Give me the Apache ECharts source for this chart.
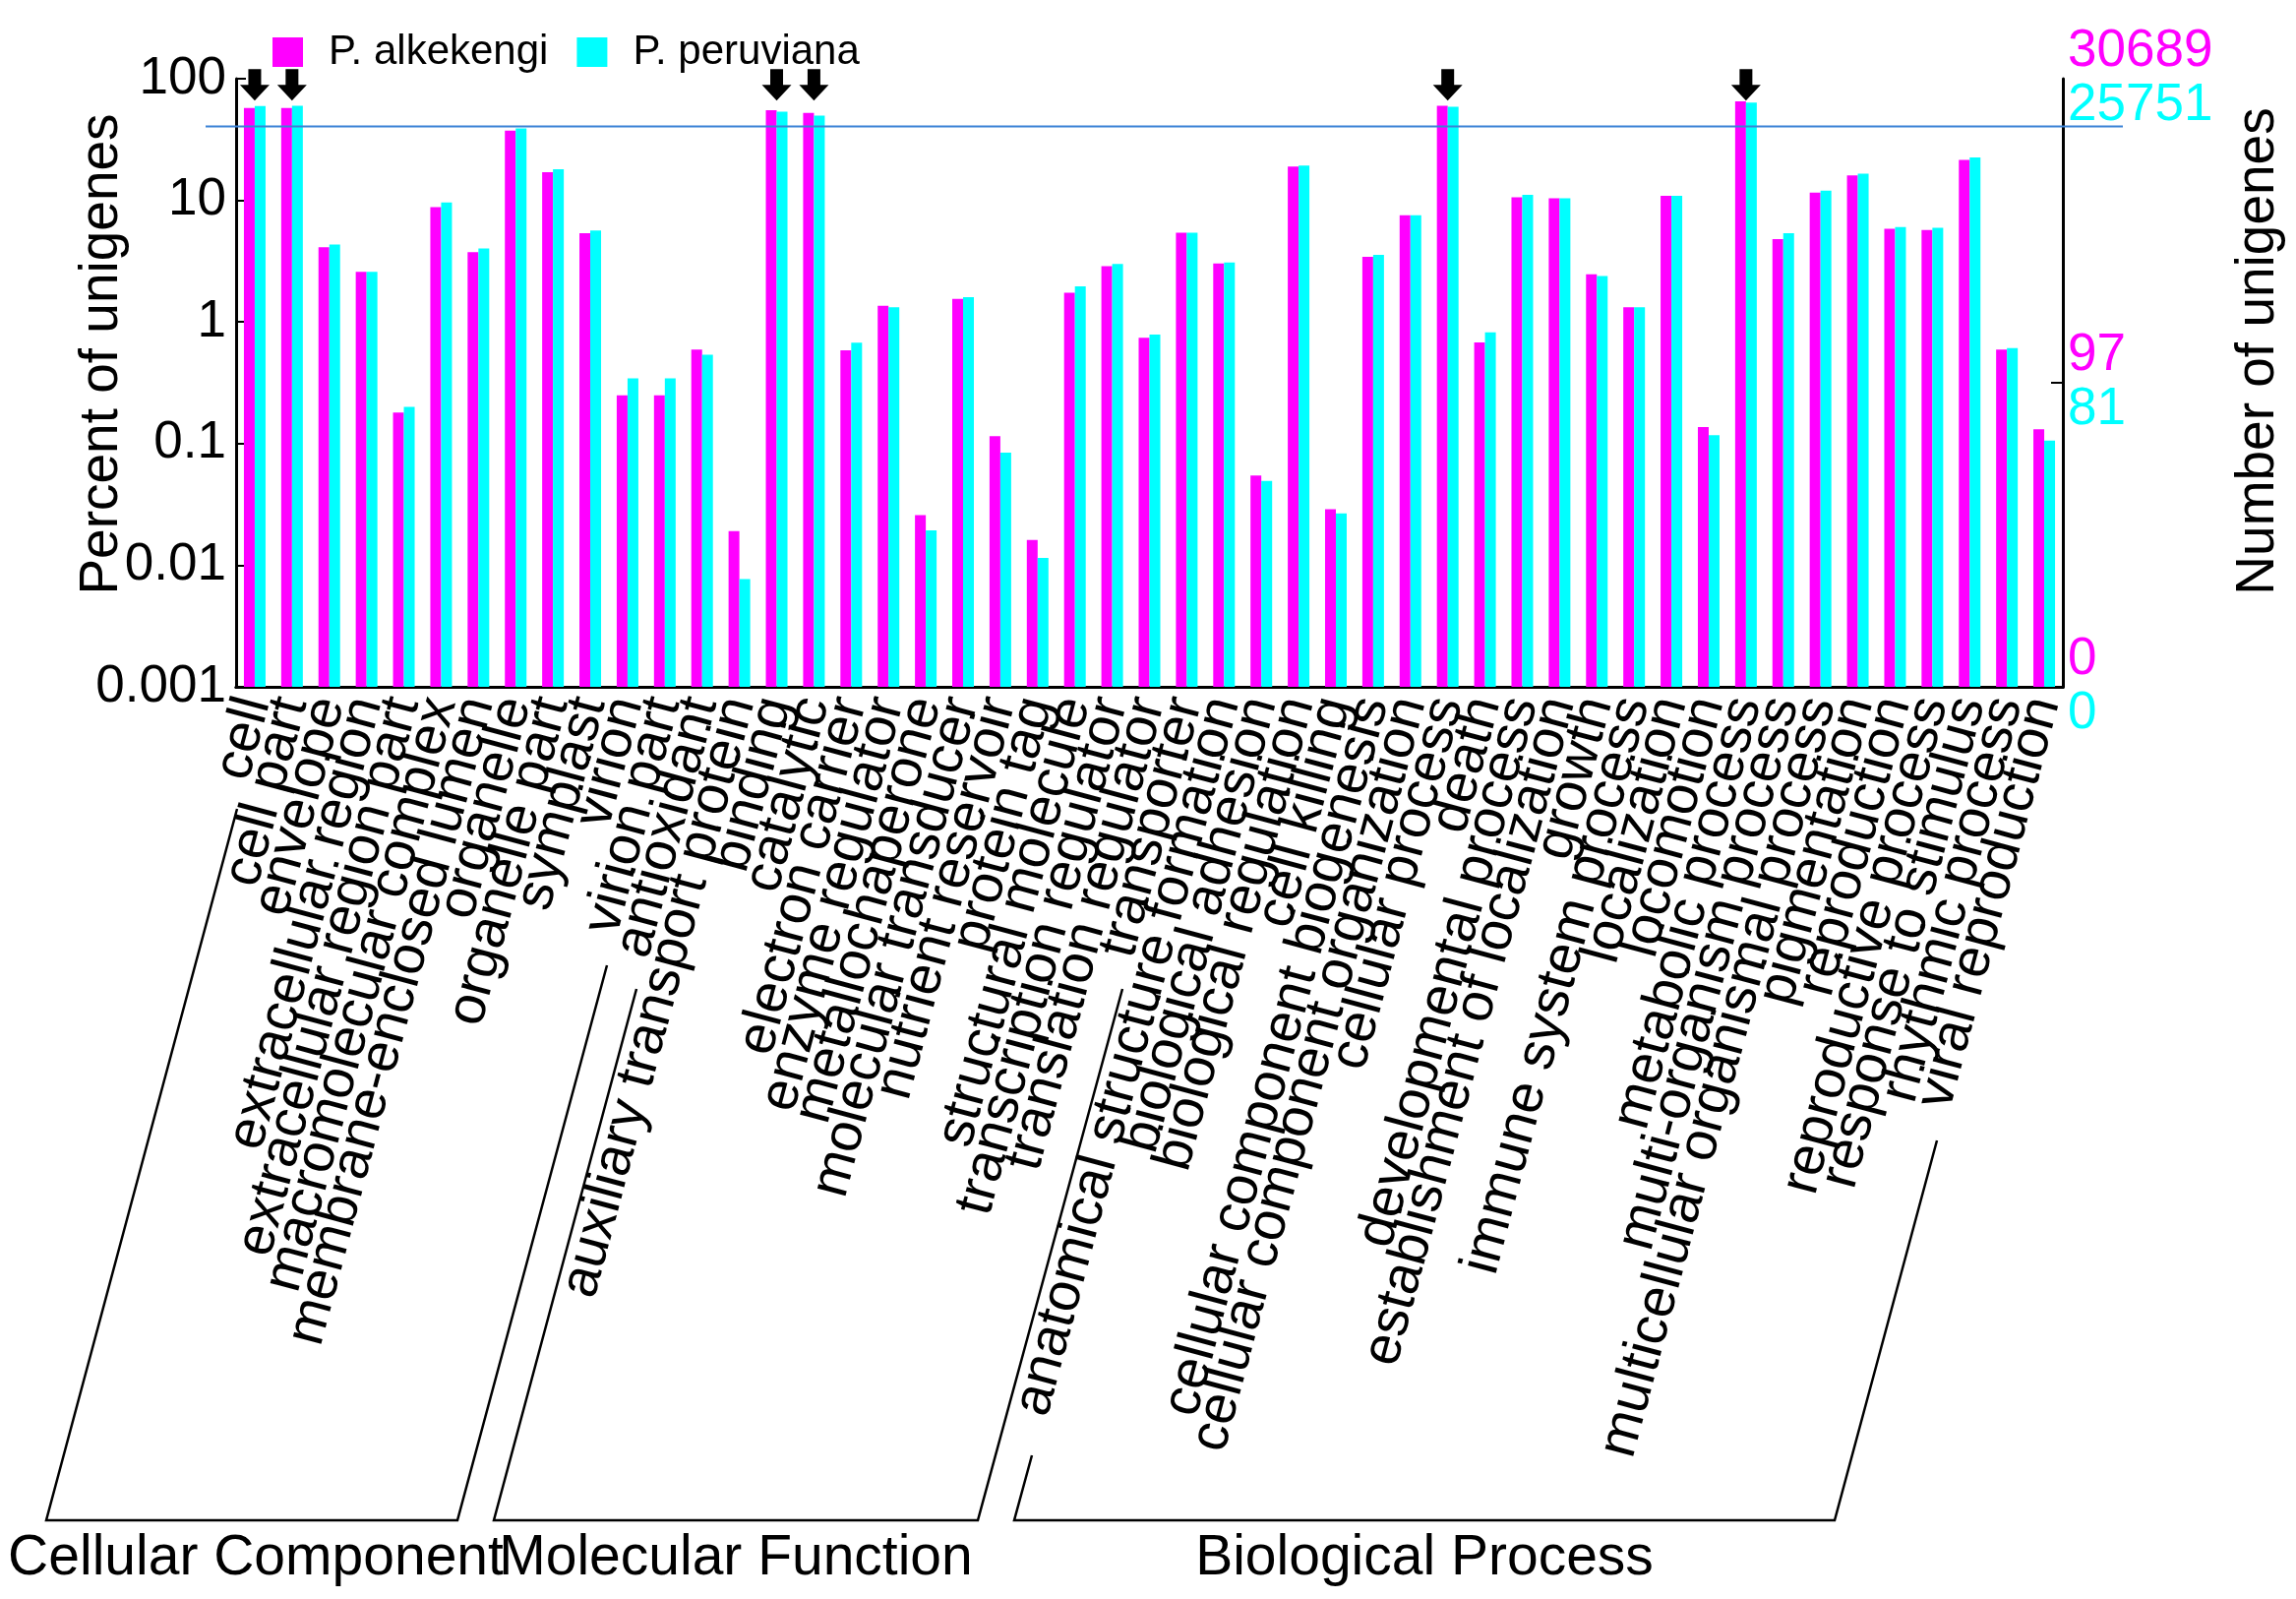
<!DOCTYPE html>
<html><head><meta charset="utf-8">
<script src="https://cdn.jsdelivr.net/npm/echarts@6/dist/echarts.min.js"></script>
<style>html,body{margin:0;padding:0;background:#fff}#c{width:2334px;height:1625px}</style>
</head><body><div id="c"></div>
<script>
const categories = [
  'cell','cell part','envelope','extracellular region','extracellular region part','macromolecular complex',
  'membrane-enclosed lumen','organelle','organelle part','symplast','virion','virion part',
  'antioxidant','auxiliary transport protein','binding','catalytic','electron carrier','enzyme regulator',
  'metallochaperone','molecular transducer','nutrient reservoir','protein tag','structural molecule',
  'transcription regulator','translation regulator','transporter',
  'anatomical structure formation','biological adhesion','biological regulation','cell killing',
  'cellular component biogenesis','cellular component organization','cellular process','death',
  'developmental process','establishment of localization','growth','immune system process','localization',
  'locomotion','metabolic process','multi-organism process','multicellular organismal process',
  'pigmentation','reproduction','reproductive process','response to stimulus','rhythmic process','viral reproduction'
];
const alkekengi = [
  57.5, 57.5, 4.12, 2.58, 0.18, 8.8, 3.75, 37.5, 17.0, 5.37, 0.249, 0.249,
  0.594, 0.0191, 55, 52.4, 0.585, 1.36, 0.0258, 1.545, 0.115, 0.0161, 1.74, 2.88, 0.741, 5.41,
  3.03, 0.0546, 18.97, 0.0288, 3.44, 7.55, 60, 0.68, 10.6, 10.4, 2.47, 1.32, 10.9, 0.137,
  65.3, 4.80, 11.6, 16.0, 5.85, 5.70, 21.5, 0.594, 0.131
];
const peruviana = [
  59.5, 60, 4.33, 2.58, 0.20, 9.6, 4.02, 39.1, 18.0, 5.65, 0.344, 0.344,
  0.537, 0.0077, 53.5, 49.7, 0.676, 1.32, 0.0193, 1.60, 0.0843, 0.0115, 1.96, 3.00, 0.787, 5.41,
  3.08, 0.0493, 19.3, 0.0267, 3.56, 7.55, 58.9, 0.82, 11.1, 10.4, 2.39, 1.32, 10.9, 0.117,
  63.7, 5.37, 12.0, 16.6, 6.04, 5.94, 22.5, 0.610, 0.106
];
const seriesNames = ['P. alkekengi', 'P. peruviana'];
const leftTicks = [0.001, 0.01, 0.1, 1, 10, 100];
const rightAlk = [30689, 97, 0];
const rightPer = [25751, 81, 0];
const refLineValue = 40.5;
const arrowThreshold = 50;
const arrowLevel = 89;
const groupNames = ['Cellular Component', 'Molecular Function', 'Biological Process'];

const FONT = '"Liberation Sans", Arial, Helvetica, sans-serif';
const MAG = '#ff00ff', CY = '#00ffff';

// log10 scale, shifted so the axis floor (0.001 %) is 0
const LOG_MIN = Math.log10(leftTicks[0]);
const LOG_MAX = Math.log10(leftTicks[leftTicks.length - 1]);
const toPlot = v => Math.log10(v) - LOG_MIN;
const fromPlot = p => Math.pow(10, p + LOG_MIN);

const rightPos = [toPlot(100), toPlot(rightAlk[1] / rightAlk[0] * 100), 0];

const chart = echarts.init(document.getElementById('c'), null, {renderer: 'canvas'});
const arrowPath = 'path://M8.5,0 L21.5,0 L21.5,16 L30,16 L15,32 L0,16 L8.5,16 Z';

const option = {
  backgroundColor: '#fff',
  animation: false,
  textStyle: {fontFamily: FONT},
  legend: {
    data: seriesNames,
    left: 272, top: 27,
    itemWidth: 31, itemHeight: 30, itemGap: 29,
    icon: 'rect',
    textStyle: {fontSize: 42, color: '#000', fontFamily: FONT, padding: [0, 0, 0, 21]}
  },
  grid: [
    {left: 240, right: 237, top: 80, bottom: 927, containLabel: false},
    {left: 209, right: 176, top: 80, bottom: 927, containLabel: false}
  ],
  xAxis: [
    {
      type: 'category', data: categories, gridIndex: 0, position: 'bottom',
      axisLine: {lineStyle: {color: '#000', width: 3}},
      axisTick: {inside: true, length: 11, lineStyle: {color: '#000', width: 2}},
      axisLabel: {interval: 0, rotate: 75, fontSize: 56, color: '#000', fontFamily: FONT, margin: 12, hideOverlap: false}
    },
    {
      type: 'category', data: categories, gridIndex: 0, position: 'top',
      axisLine: {lineStyle: {color: '#000', width: 3}},
      axisTick: {inside: true, length: 11, lineStyle: {color: '#000', width: 2}},
      axisLabel: {show: false}
    },
    {type: 'value', gridIndex: 1, min: 0, max: 1, show: false}
  ],
  yAxis: [
    {
      type: 'value', min: 0, max: LOG_MAX - LOG_MIN, interval: 1, gridIndex: 0, position: 'left',
      name: 'Percent of unigenes', nameLocation: 'middle', nameGap: 109, nameRotate: 90,
      nameMoveOverlap: false,
      nameTextStyle: {fontSize: 55, color: '#000', fontFamily: FONT, padding: [0, 0, 0, 58]},
      axisLine: {show: true, lineStyle: {color: '#000', width: 3}},
      axisTick: {show: true, inside: true, length: 10, lineStyle: {color: '#000', width: 2}},
      splitLine: {show: false},
      axisLabel: {
        fontSize: 53, color: '#000', fontFamily: FONT, margin: 10,
        formatter: v => String(Number(fromPlot(v).toPrecision(3)))
      }
    },
    {
      type: 'value', min: 0, max: LOG_MAX - LOG_MIN, gridIndex: 0, position: 'right',
      name: 'Number of unigenes', nameLocation: 'middle', nameGap: 171, nameRotate: 90,
      nameMoveOverlap: false,
      nameTextStyle: {fontSize: 55, color: '#000', fontFamily: FONT, padding: [0, 0, 0, 64]},
      axisLine: {show: true, lineStyle: {color: '#000', width: 3}},
      axisTick: {show: true, inside: true, length: 12, customValues: [rightPos[1]], lineStyle: {color: '#000', width: 2}},
      splitLine: {show: false},
      axisLabel: {
        customValues: rightPos, margin: 5, fontFamily: FONT,
        formatter: v => {
          let i = 0, best = 1e9;
          rightPos.forEach((p, k) => { if (Math.abs(p - v) < best) { best = Math.abs(p - v); i = k; } });
          return '{m|' + rightAlk[i] + '}\n{c|' + rightPer[i] + '}';
        },
        rich: {
          m: {color: MAG, fontSize: 53, lineHeight: 55, fontFamily: FONT},
          c: {color: CY, fontSize: 53, lineHeight: 55, fontFamily: FONT}
        }
      }
    },
    {type: 'value', min: 0, max: LOG_MAX - LOG_MIN, gridIndex: 1, show: false}
  ],
  series: [
    {
      name: seriesNames[0], type: 'bar', xAxisIndex: 0, yAxisIndex: 0,
      data: alkekengi.map(toPlot), barWidth: 11, barGap: '0%', itemStyle: {color: MAG}, z: 2
    },
    {
      name: seriesNames[1], type: 'bar', xAxisIndex: 0, yAxisIndex: 0,
      data: peruviana.map(toPlot), barWidth: 11, barGap: '0%', itemStyle: {color: CY}, z: 2
    },
    {
      name: 'ref', type: 'line', xAxisIndex: 2, yAxisIndex: 2,
      data: [[0, toPlot(refLineValue)], [1, toPlot(refLineValue)]],
      symbol: 'none', lineStyle: {color: '#3b82d6', width: 2}, z: 4, silent: true
    },
    {
      name: 'arrows', type: 'scatter', xAxisIndex: 0, yAxisIndex: 0,
      data: categories.map((c, i) => alkekengi[i] > arrowThreshold ? toPlot(arrowLevel) : '-'),
      symbol: arrowPath, symbolSize: [30, 32], symbolKeepAspect: false,
      itemStyle: {color: '#000', opacity: 1}, z: 10, silent: true
    }
  ],
  graphic: [
    {type: 'polyline', shape: {points: [[241, 822], [47, 1545], [465, 1545], [617, 981]]}, style: {stroke: '#000', lineWidth: 2.5, fill: null}},
    {type: 'polyline', shape: {points: [[647, 1005], [502, 1545], [994, 1545], [1141, 1005]]}, style: {stroke: '#000', lineWidth: 2.5, fill: null}},
    {type: 'polyline', shape: {points: [[1049, 1479], [1031, 1545], [1865, 1545], [1969, 1159]]}, style: {stroke: '#000', lineWidth: 2.5, fill: null}},
    {type: 'text', x: 260, y: 1584, style: {text: groupNames[0], fontSize: 57, fontFamily: FONT, fill: '#000', align: 'center', verticalAlign: 'middle'}},
    {type: 'text', x: 748, y: 1584, style: {text: groupNames[1], fontSize: 57, fontFamily: FONT, fill: '#000', align: 'center', verticalAlign: 'middle'}},
    {type: 'text', x: 1448, y: 1584, style: {text: groupNames[2], fontSize: 57, fontFamily: FONT, fill: '#000', align: 'center', verticalAlign: 'middle'}}
  ]
};
chart.setOption(option);
</script>
</body></html>
